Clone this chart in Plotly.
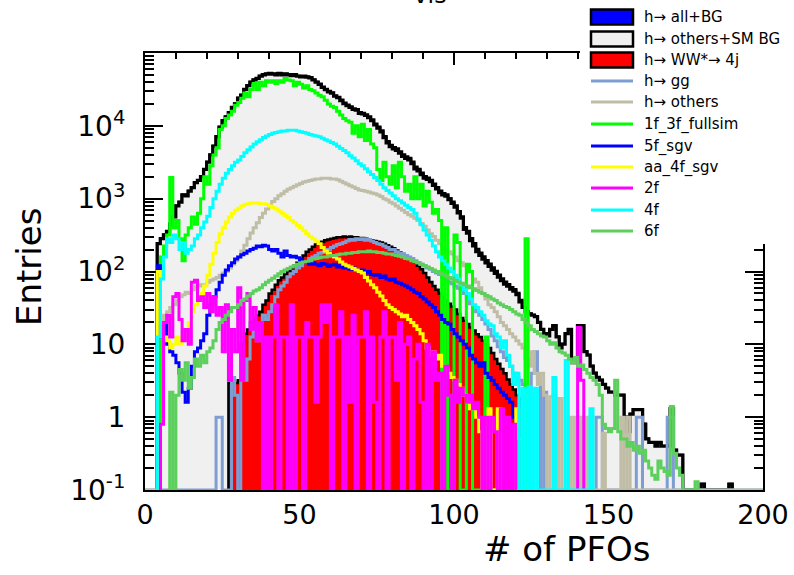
import plotly.graph_objects as go

NBINS = 200
YMIN = 0.1

# ---------------- data (bin width 1, values per bin, starting at *_start) ----------------
all_bg_start = 4
all_bg = [
    240, 282, 316, 355, 447, 562, 794, 891, 1120, 1090,
    1260, 1410, 1660, 1780, 2000, 2510, 3160, 3980, 5250, 7080,
    9550, 11700, 13200, 15100, 17800, 20000, 24000, 26300, 31600, 35500,
    39800, 42700, 44700, 47900, 50100, 51300, 52500, 51300, 50100, 52500,
    50100, 51300, 50100, 49000, 50100, 47900, 46800, 47900, 46800, 45700,
    42700, 39800, 37200, 33900, 31600, 29500, 28200, 25700, 24500, 22400,
    20400, 19100, 18200, 17000, 16600, 15100, 14800, 14100, 13200, 12000,
    10500, 9550, 8510, 7080, 6030, 5370, 5010, 4790, 4370, 3980,
    3720, 3550, 3160, 2690, 2510, 2240, 2000, 1910, 1780, 1580,
    1410, 1260, 1170, 1120, 1000, 891, 794, 661, 562, 398,
    355, 282, 240, 200, 178, 158, 141, 126, 112, 100,
    89, 79, 71, 66, 60, 56, 50, 40, 32, 28,
    26, 25, 24, 20, 16, 14, 13, 16, 18, 12.6,
    8.9, 10, 14, 16, 5.6, 6.3, 18, 18, 7.9, 7.1,
    5.0, 4.0, 3.5, 3.2, 2.8, 2.5, 2.2, 2.2, 2.0, 2.0,
    2.0, 1.0, 0.63, 1.1, 1.26, 1.26, 1.26, 0.8, 0.5, 0.45,
    0.45, 0.4, 0.45, 0.4, 0.4, 0.4, 1.3, 0.35, 0.3, 0.3,
    0, 0, 0, 0, 0, 0, 0.12, 0, 0, 0,
    0, 0, 0, 0, 0, 0.12,
]

ww_start = 27
ww_4j = [
    2.95, 2.95, 2.95, 3.2, 10, 14, 16, 20, 22, 25,
    28, 35, 40, 50, 56, 66, 76, 83, 91, 100,
    112, 120, 132, 148, 166, 186, 200, 219, 234, 245,
    257, 269, 275, 282, 288, 295, 295, 302, 295, 302,
    295, 295, 288, 288, 282, 275, 269, 263, 257, 251,
    240, 229, 219, 209, 195, 182, 174, 162, 151, 141,
    132, 120, 107, 95, 83, 72, 63, 56, 50, 45,
    40, 36, 33, 30, 26, 23, 21, 19, 17, 15.5,
    13.8, 12.6, 11.2, 10, 8.9, 7.6, 6.3, 5.4, 4.6, 4.0,
    3.3, 2.8, 2.4, 2.0, 1.8,
]

gg_start = 23
h_gg = [
    1.0, 1.0, 0, 0, 0, 3.5, 2.0, 0, 6.3, 3.2,
    6.3, 12.6, 15.8, 11.2, 20, 25, 22, 28, 35, 45,
    56, 63, 71, 85, 93, 100, 112, 120, 132, 141,
    151, 158, 166, 178, 182, 191, 200, 214, 224, 234,
    240, 251, 263, 275, 269, 282, 275, 282, 269, 275,
    263, 251, 240, 234, 224, 214, 200, 200, 186, 178,
    174, 166, 158, 151, 141, 132, 126, 120, 112, 107,
    100, 95, 91, 85, 79, 72, 68, 63, 59, 56,
    50, 42, 36, 32, 28, 25, 22, 19, 16, 13,
    11.2, 9.3, 7.9, 6.6, 6.0, 5.0, 4.0, 3.5, 3.2, 2.8,
    2.5, 0, 4.0, 7.9, 3.2, 0, 2.2, 0, 0, 0,
    0, 0, 0, 0, 0, 0, 0, 0, 0, 0,
    0, 0, 0, 1.0, 1.0, 0, 0, 0, 0, 0,
    0, 0, 0, 0, 0, 0, 1.0, 1.0, 0, 0,
    0, 0, 0, 0, 0, 0, 1.0, 1.0,
]

others_start = 4
h_others = [
    12.6, 20, 25, 28, 32, 35, 40, 45, 48, 52,
    50, 56, 63, 63, 66, 66, 71, 76, 79, 83,
    89, 95, 100, 112, 126, 141, 158, 191, 229, 282,
    339, 398, 468, 550, 631, 724, 813, 912, 1000, 1100,
    1170, 1260, 1350, 1410, 1480, 1550, 1620, 1700, 1740, 1780,
    1820, 1860, 1860, 1910, 1910, 1910, 1860, 1860, 1820, 1740,
    1660, 1580, 1510, 1450, 1380, 1320, 1290, 1260, 1230, 1200,
    1170, 1120, 1070, 1000, 955, 891, 851, 794, 741, 692,
    646, 603, 575, 537, 501, 457, 417, 372, 331, 302,
    269, 240, 219, 200, 186, 174, 158, 141, 132, 120,
    112, 100, 79, 71, 60, 50, 42, 35, 32, 28,
    24, 20, 18, 16, 14, 12.6, 11.2, 10, 8.9, 6.3,
    5.0, 7.9, 4.0, 2.8, 4.0, 2.0, 0, 1.9, 2.0, 0,
    1.8, 0, 0, 1.0, 0, 1.0, 1.0, 0, 1.0, 0,
    1.0, 0, 0, 0, 0.6, 0, 0, 0, 0, 0,
    1.0, 0, 1.0,
]

f13_start = 5
f1_3f = [
    158, 224, 316, 1950, 398, 501, 282, 141, 316, 398,
    562, 447, 631, 1000, 2000, 1580, 2820, 3980, 5010, 8910,
    10000, 12600, 14100, 15800, 19100, 20900, 24000, 28200, 25100, 31600,
    38000, 31600, 39800, 35500, 41700, 39800, 41700, 38000, 41700, 39800,
    44700, 42700, 41700, 35500, 39800, 37200, 33100, 35500, 31600, 30200,
    28200, 26300, 25100, 22400, 20000, 18600, 17800, 15800, 14100, 12600,
    11700, 11200, 7940, 10000, 7080, 10500, 6310, 8910, 5620, 5010,
    2510, 1780, 3160, 2000, 1580, 2820, 1410, 3160, 2000, 1260,
    1580, 1000, 2000, 1000, 1580, 794, 1260, 891, 631, 708,
    501, 0, 398, 0, 0, 316, 251, 0, 0, 126,
    100, 0, 0, 0, 0, 12.6, 0, 0, 0, 0,
    0, 0, 0, 0, 0, 0, 0, 0, 282,
]

f5_start = 4
f5_sgv = [
    120, 12.6, 20, 10, 7.9, 7.1, 5.6, 4.0, 2.2, 1.6,
    2.5, 5.0, 7.9, 8.9, 11.2, 14, 25, 35, 45, 56,
    71, 89, 105, 120, 132, 148, 158, 170, 178, 191,
    200, 209, 224, 219, 229, 224, 200, 191, 200, 178,
    158, 191, 166, 158, 162, 155, 145, 141, 132, 126,
    132, 126, 120, 129, 126, 117, 123, 126, 115, 120,
    112, 117, 107, 112, 105, 100, 105, 95, 100, 91,
    89, 91, 83, 87, 79, 76, 79, 71, 69, 66,
    63, 60, 56, 52, 50, 45, 42, 38, 35, 32,
    28, 25, 22, 20, 19, 16, 14, 12.6, 11.2, 10,
    8.9, 7.1, 6.3, 5.6, 5.0, 5.6, 4.0, 3.5, 3.2, 2.8,
    2.5, 2.2, 2.0, 1.8, 1.6, 1.0, 0.63, 0.5,
]

aa_start = 4
aa_4f_sgv = [
    100, 20, 12.6, 11.2, 8.9, 10, 12.6, 10, 11.2, 16,
    20, 28, 35, 40, 50, 63, 89, 126, 178, 251,
    331, 398, 479, 562, 631, 692, 741, 794, 832, 851,
    871, 871, 871, 851, 851, 832, 794, 759, 724, 676,
    631, 589, 550, 501, 468, 427, 398, 363, 331, 302,
    282, 263, 240, 214, 191, 178, 166, 158, 148, 135,
    126, 120, 115, 110, 105, 100, 95, 83, 74, 66,
    60, 52, 46, 40, 35, 32, 30, 28, 26, 24,
    25, 22, 20, 18, 16, 14, 11.2, 8.9, 7.1, 7.9,
    6.3, 7.1, 5.0, 4.5, 4.0, 3.5, 3.2, 2.8, 2.5, 2.0,
    1.6, 1.3, 1.3, 1.0, 0.63, 0, 0, 1.3, 0, 0,
    1.3, 0, 0, 0, 0, 0, 1.3, 0.5,
]

f2_start = 5
f2 = [
    0.8, 20, 25, 12.6, 45, 50, 22, 11.2, 16, 10,
    71, 76, 40, 45, 32, 50, 28, 45, 25, 32,
    7.9, 35, 3.2, 16, 7.9, 60, 3.2, 40, 50, 16,
    32, 11.2, 20, 0, 12.6, 0, 12.6, 35, 0, 12.6,
    12.6, 0, 35, 0, 12.6, 12.6, 0, 20, 12.6, 12.6,
    1.6, 12.6, 35, 20, 35, 0, 12.6, 12.6, 28, 0,
    12.6, 1.6, 25, 0, 12.6, 12.6, 28, 0, 12.6, 1.6,
    0, 12.6, 28, 0, 12.6, 12.6, 3.2, 20, 0, 10,
    12.6, 0, 6.3, 10, 1.6, 0, 10, 0, 7.9, 3.2,
    4.0, 0, 5.0, 2.0, 0, 3.2, 1.6, 2.5, 2.0, 1.6,
    2.0, 1.3, 1.6, 1.0, 0, 1.0, 0, 1.0, 0.63, 0,
    1.3, 0, 1.0, 0, 0.8,
]
f2_tail_start = 140
f2_tail = [17, 3.2]

f4_start = 4
f4 = [
    12.6, 79, 158, 282, 251, 316, 282, 200, 251, 178,
    200, 224, 282, 316, 398, 479, 575, 759, 1000, 1260,
    1580, 1910, 2240, 2510, 2820, 3160, 3390, 3800, 4270, 4680,
    5130, 5620, 6030, 6460, 6920, 7240, 7590, 7940, 8130, 8320,
    8510, 8510, 8710, 8710, 8710, 8510, 8320, 8130, 7940, 7590,
    7410, 7240, 7080, 6760, 6460, 6170, 5890, 5620, 5250, 4900,
    4570, 4270, 3890, 3630, 3310, 3020, 2820, 2570, 2340, 2140,
    1950, 1780, 1580, 1410, 1290, 1200, 1100, 1000, 933, 871,
    813, 759, 708, 631, 525, 437, 372, 316, 269, 224,
    186, 158, 141, 126, 112, 100, 89, 79, 66, 56,
    50, 42, 35, 32, 28, 25, 21, 19, 18, 14,
    12.6, 8.9, 11.2, 7.1, 5.0, 2.8, 4.0, 0, 2.5, 0,
    2.6, 0, 2.5, 0, 0, 0, 0, 0, 3.5, 0,
    0, 0, 6.0, 0, 0, 0, 0, 0, 0, 0,
    1.3,
]

f6_start = 8
f6 = [
    2.2, 0, 2.0, 4.5, 3.2, 5.6, 2.5, 3.5, 6.3, 5.0,
    7.1, 5.6, 7.9, 8.9, 11.2, 16, 20, 22, 25, 28,
    32, 32, 35, 40, 42, 46, 50, 54, 56, 60,
    66, 71, 76, 81, 87, 93, 100, 105, 110, 115,
    120, 126, 132, 135, 138, 141, 148, 151, 155, 158,
    158, 162, 166, 166, 170, 174, 174, 178, 178, 182,
    182, 186, 186, 186, 191, 186, 186, 182, 182, 178,
    174, 174, 170, 166, 162, 158, 151, 148, 141, 135,
    132, 126, 120, 115, 110, 105, 100, 95, 91, 87,
    83, 79, 76, 72, 69, 66, 63, 60, 58, 55,
    52, 50, 47, 45, 42, 40, 37, 35, 33, 32,
    30, 28, 26, 25, 22, 20, 18, 16, 15, 14,
    13, 12.6, 11.2, 10, 10.5, 8.9, 7.9, 7.6, 7.1, 6.3,
    5.6, 6.6, 5.0, 5.2, 4.5, 4.0, 3.5, 3.2, 2.8, 2.0,
    0.8, 0.7, 0.63, 0.7, 3.2, 0.63, 0.5, 0.5, 0.4, 0.45,
    0.35, 0.4, 0.32, 0.35, 0.25, 0.2, 0.16, 0.14, 0.25, 0.2,
    0.18, 0.16, 1.4, 0.32, 0.2, 0.16, 0, 0, 0, 0,
    0.13,
]

legend_labels = ["h\u2192 all+BG", "h\u2192 others+SM BG", "h\u2192 WW*\u2192 4j",
                 "h\u2192 gg", "h\u2192 others", "1f_3f_fullsim", "5f_sgv",
                 "aa_4f_sgv", "2f", "4f", "6f"]
x_title = "# of PFOs"
y_title = "Entries"
y_tickvals = [0.1, 1, 10, 100, 1000, 10000]
y_ticktext = ["10<sup>-1</sup>", "1", "10", "10<sup>2</sup>", "10<sup>3</sup>", "10<sup>4</sup>"]
x_tickvals = [0, 50, 100, 150, 200]

# ---------------- helpers ----------------
def to_full(start, vals):
    arr = [0.0] * NBINS
    for i, v in enumerate(vals):
        arr[start + i] = v
    return arr

def step_xy(start, vals, full=False):
    if full:
        vv = to_full(start, vals)
        s = 0
    else:
        vv = vals
        s = start
    e = s + len(vv)
    xs = [s] + list(range(s, e)) + [e]
    ys = [YMIN] + [v if v > YMIN else YMIN for v in vv] + [YMIN]
    return xs, ys

all_full = to_full(all_bg_start, all_bg)
ww_full = to_full(ww_start, ww_4j)
others_bg = [max(a - w, 0.0) for a, w in zip(all_full, ww_full)]
o_first = next(i for i, v in enumerate(others_bg) if v > 0)
o_last = max(i for i, v in enumerate(others_bg) if v > 0)
others_bg_vals = others_bg[o_first:o_last + 1]

fig = go.Figure()

def add_fill(start, vals, fillcolor, lw):
    xs, ys = step_xy(start, vals)
    fig.add_trace(go.Scatter(x=xs, y=ys, mode="lines", line=dict(shape="hv", color="black", width=lw),
                             fill="toself", fillcolor=fillcolor, hoverinfo="skip"))

def add_line(start, vals, color, full=False, lw=3):
    xs, ys = step_xy(start, vals, full)
    fig.add_trace(go.Scatter(x=xs, y=ys, mode="lines", line=dict(shape="hv", color=color, width=lw),
                             hoverinfo="skip"))

add_fill(all_bg_start, all_bg, "#0000ff", 3.5)
add_fill(o_first, others_bg_vals, "#f0f0f0", 3)
add_fill(ww_start, ww_4j, "#ff0000", 2.5)

C_GG = "#7e9dd2"
C_OTH = "#c0bda7"
C_13 = "#00ff00"
C_5F = "#0000ff"
C_AA = "#ffff00"
C_2F = "#ff00ff"
C_4F = "#00ffff"
C_6F = "#5ccf5c"

add_line(gg_start, h_gg, C_GG, full=True)
add_line(others_start, h_others, C_OTH, full=True)
add_line(f13_start, f1_3f, C_13)
add_line(f5_start, f5_sgv, C_5F)
add_line(aa_start, aa_4f_sgv, C_AA)
add_line(f2_start, f2, C_2F)
add_line(f2_tail_start, f2_tail, C_2F)
add_line(f4_start, f4, C_4F)
add_line(f6_start, f6, C_6F)

# ---------------- layout ----------------
L, R, T, B = 145, 31, 53, 85
W, H = 794, 575
PW, PH = W - L - R, H - T - B

def px(x):
    return (x - L) / PW

def py(y):
    return (H - B - y) / PH

minor_y = [m * 10 ** k for k in range(-1, 5) for m in range(2, 10)]

fig.update_layout(
    width=W, height=H, margin=dict(l=L, r=R, t=T, b=B, autoexpand=False),
    paper_bgcolor="white", plot_bgcolor="white", showlegend=False,
    font=dict(family="DejaVu Sans", color="black"),
)
fig.update_xaxes(
    range=[0, 200], tickmode="array", tickvals=x_tickvals, ticks="inside", ticklen=12,
    tickwidth=2, tickcolor="black", mirror="ticks", showline=True, linecolor="black",
    linewidth=2, showgrid=False, zeroline=False, tickfont=dict(size=27, family="DejaVu Sans"),
    minor=dict(dtick=10, tick0=0, ticks="inside", ticklen=6, tickwidth=2, tickcolor="black",
               showgrid=False),
    layer="below traces", ticklabelstandoff=0, automargin=False,
)
fig.update_yaxes(
    type="log", range=[-1, 5], tickmode="array", tickvals=y_tickvals, ticktext=y_ticktext,
    ticks="inside", ticklen=18, tickwidth=2, tickcolor="black", mirror="ticks", showline=True,
    linecolor="black", linewidth=2, showgrid=False, zeroline=False,
    tickfont=dict(size=28, family="DejaVu Sans"),
    minor=dict(tickmode="array", tickvals=minor_y, ticks="inside", ticklen=9, tickwidth=2,
               tickcolor="black", showgrid=False),
    layer="below traces", ticklabelstandoff=12, automargin=False,
)

shapes = []
annotations = []
# white legend pad
shapes.append(dict(type="rect", xref="paper", yref="paper", x0=px(580), x1=px(800),
                   y0=py(244), y1=py(-5), fillcolor="white", line=dict(width=0), layer="above"))
row_y = [17, 39, 60, 81, 102, 124, 146, 167, 188, 210, 231]
box_colors = ["#0000ff", "#f0f0f0", "#ff0000"]
line_colors = [C_GG, C_OTH, C_13, C_5F, C_AA, C_2F, C_4F, C_6F]
for i, yc in enumerate(row_y):
    if i < 3:
        shapes.append(dict(type="rect", xref="paper", yref="paper", x0=px(591), x1=px(633),
                           y0=py(yc + 7.5), y1=py(yc - 7.5), fillcolor=box_colors[i],
                           line=dict(color="black", width=2.5), layer="above"))
    else:
        shapes.append(dict(type="line", xref="paper", yref="paper", x0=px(591), x1=px(633),
                           y0=py(yc), y1=py(yc), line=dict(color=line_colors[i - 3], width=3),
                           layer="above"))
    annotations.append(dict(text=legend_labels[i], xref="paper", yref="paper", x=px(642),
                            y=py(yc), xanchor="left", yanchor="middle", showarrow=False,
                            font=dict(size=15, family="DejaVu Sans", color="black")))

annotations.append(dict(text=x_title, xref="paper", yref="paper", x=px(566), y=py(549),
                        xanchor="center", yanchor="middle", showarrow=False,
                        font=dict(size=34, family="DejaVu Sans", color="black")))
annotations.append(dict(text=y_title, xref="paper", yref="paper", x=px(29), y=py(267),
                        xanchor="center", yanchor="middle", textangle=-90, showarrow=False,
                        font=dict(size=34, family="DejaVu Sans", color="black")))
annotations.append(dict(text="E<sub>vis</sub> (GeV)", xref="paper", yref="paper", x=px(556),
                        y=py(11), xanchor="right", yanchor="bottom", showarrow=False,
                        font=dict(size=34, family="DejaVu Sans", color="black")))

fig.update_layout(shapes=shapes, annotations=annotations)
fig.write_html("out.html")
